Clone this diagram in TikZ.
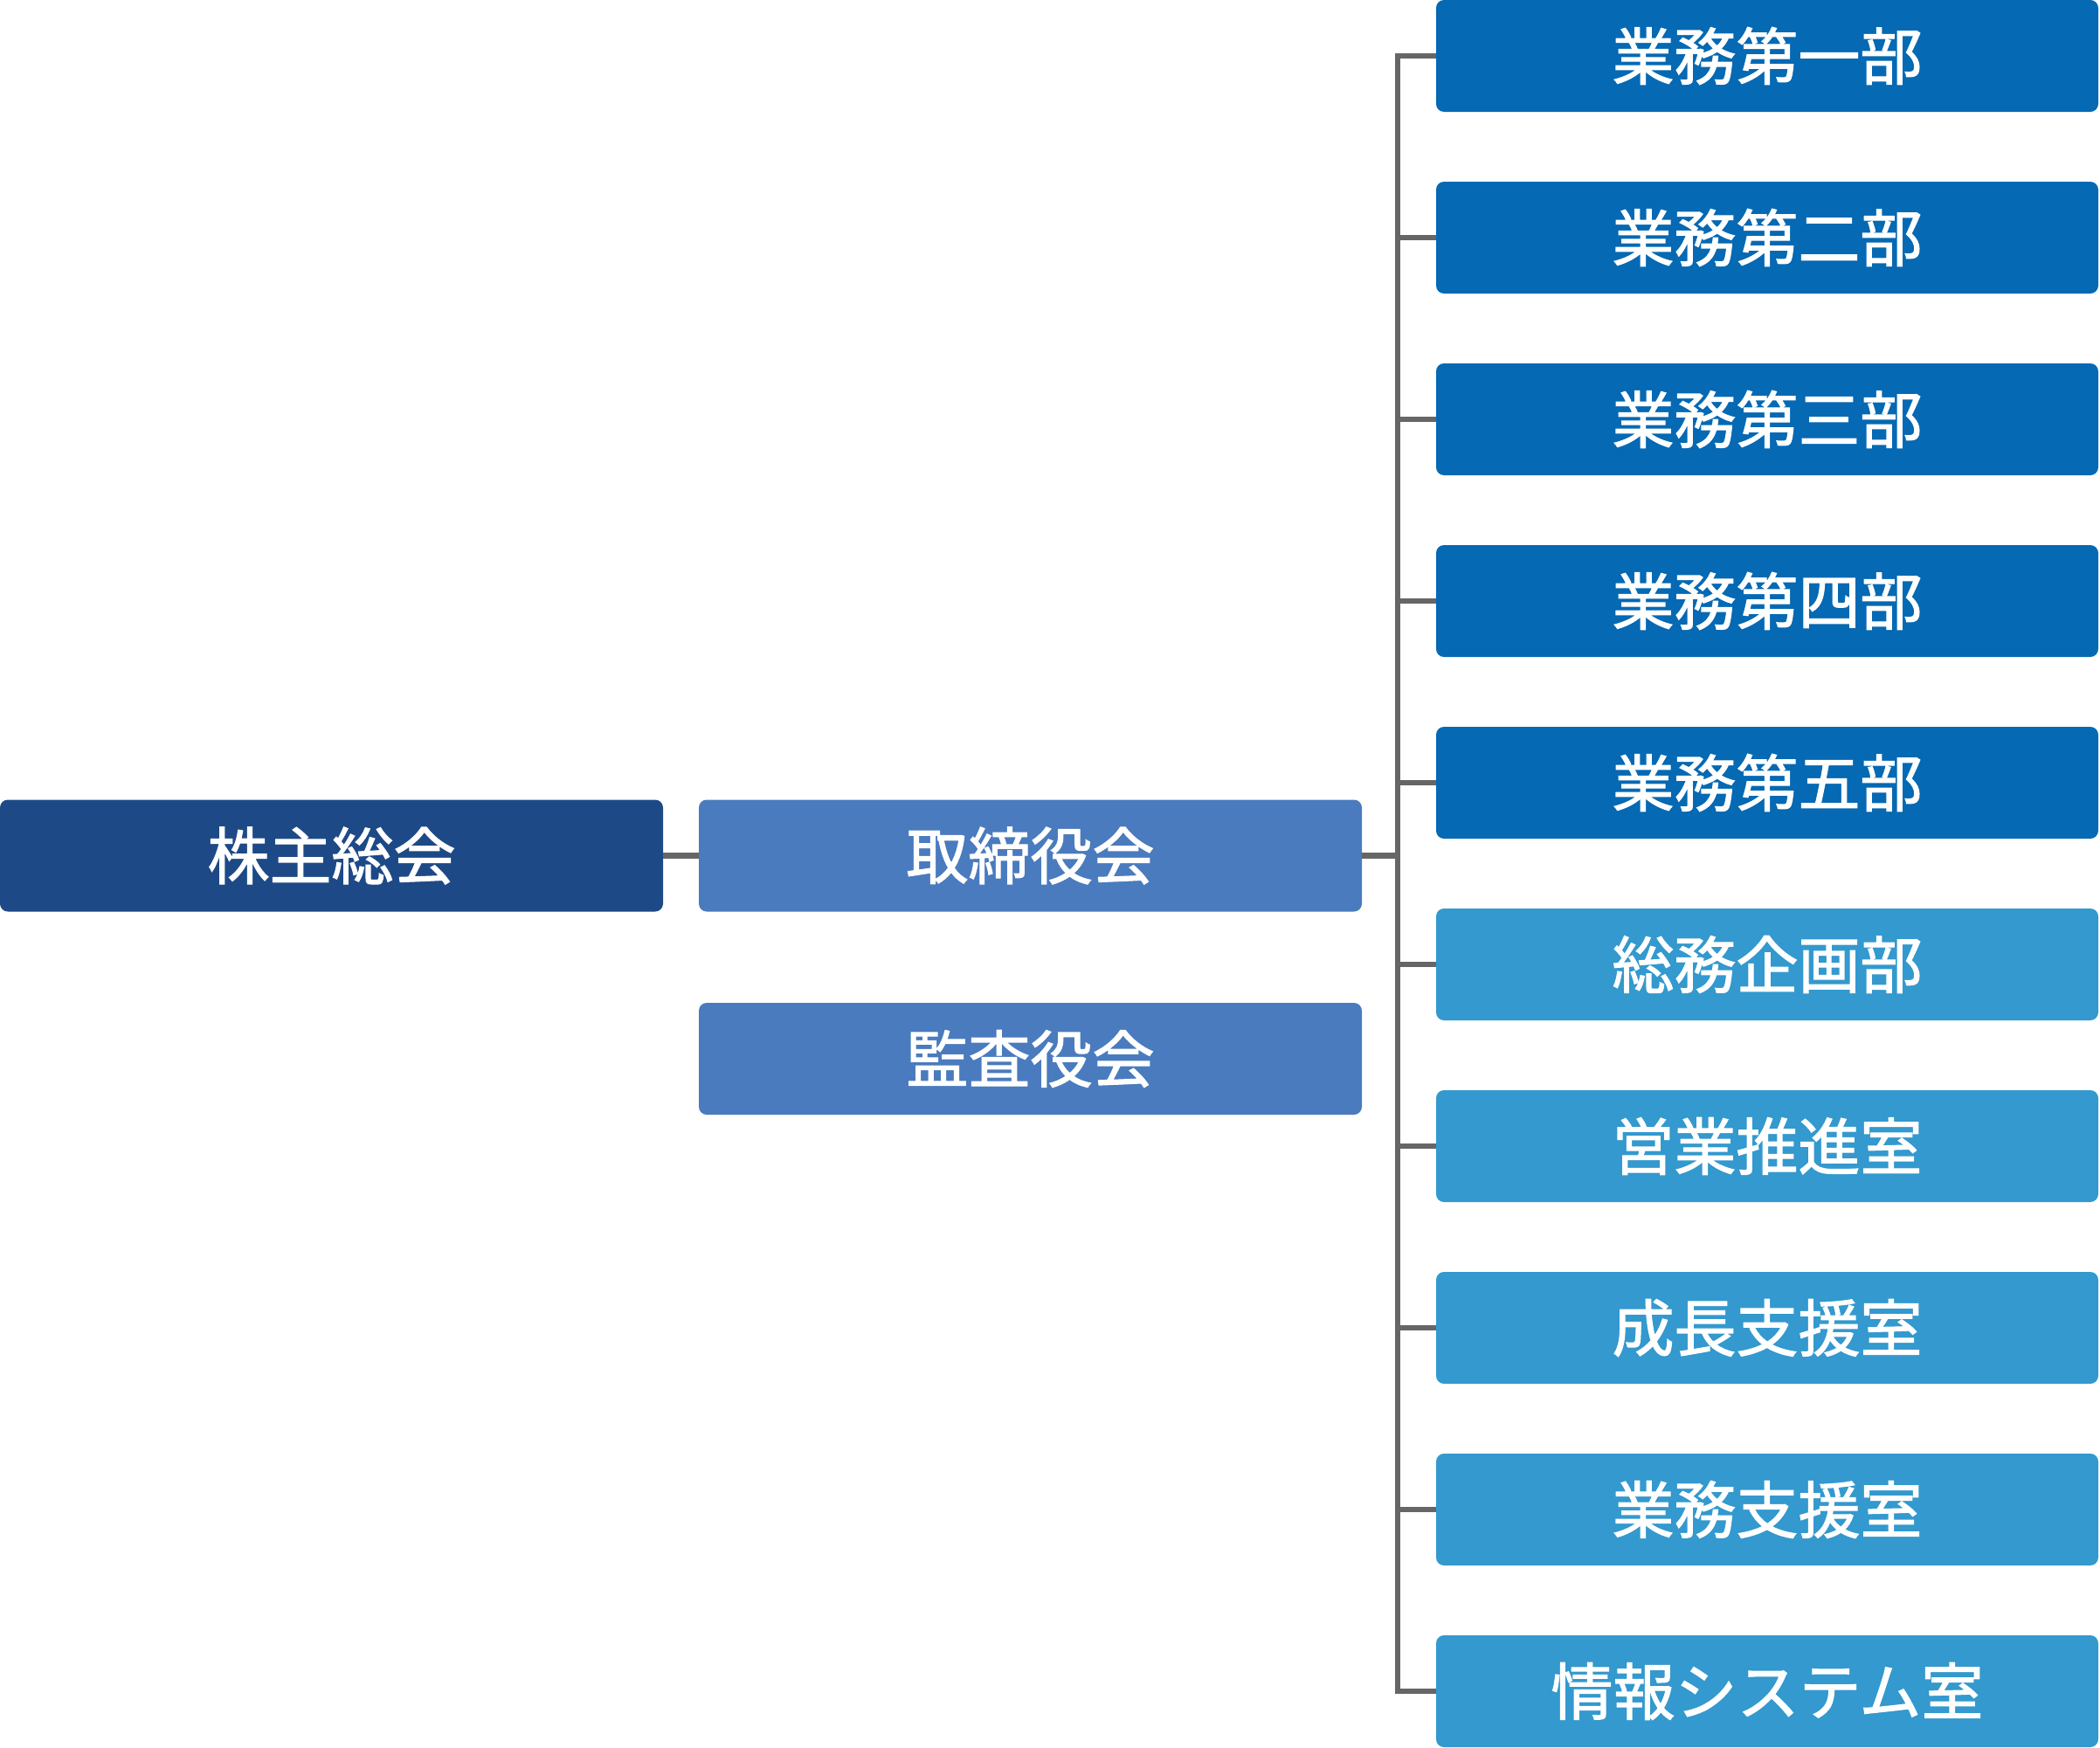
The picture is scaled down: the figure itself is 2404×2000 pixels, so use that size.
\documentclass[tikz,border=0pt]{standalone}
\usepackage{fontspec}
\setmainfont{Noto Sans CJK JP}
\newfontfamily\jpfont{Noto Sans CJK JP}[FakeBold=1.6]
\definecolor{cdark}{HTML}{1D4A87}
\definecolor{cmid}{HTML}{4A7BBE}
\definecolor{cblue}{HTML}{0569B4}
\definecolor{clight}{HTML}{3399CE}
\definecolor{cline}{HTML}{666666}
\begin{document}
\begin{tikzpicture}[x=1pt,y=1pt,
  box/.style={rounded corners=9pt, inner sep=0pt, minimum width=759pt, minimum height=128pt,
    text=white, font=\jpfont\fontsize{71}{84}\selectfont},
  conn/.style={draw=cline, line width=6.5pt}]
\useasboundingbox (0,0) rectangle (2404,-2000);
\node[box, fill=cdark] (kabu) at (379.5,-979.5) {株主総会};
\node[box, fill=cmid] (tori) at (1179.5,-979.5) {取締役会};
\node[box, fill=cmid] (kansa) at (1179.5,-1212) {監査役会};
\foreach \i/\t/\c in {0/業務第一部/cblue,1/業務第二部/cblue,2/業務第三部/cblue,3/業務第四部/cblue,4/業務第五部/cblue,5/総務企画部/clight,6/営業推進室/clight,7/成長支援室/clight,8/業務支援室/clight,9/情報システム室/clight}{
  \node[box, minimum width=758pt, fill=\c] (r\i) at (2023,{-64-208*\i}) {\t};
}
\coordinate (bus) at (1600,-979.5);
\draw[conn] (kabu.east) -- (tori.west);
\draw[conn] (tori.east) -- (bus);
\draw[conn, line join=miter] (r0.west) -- (r0.west -| bus) -- (r9.west -| bus) -- (r9.west);
\foreach \i in {1,...,8}{
  \draw[conn] (r\i.west) -- (r\i.west -| bus);
}
\end{tikzpicture}
\end{document}
